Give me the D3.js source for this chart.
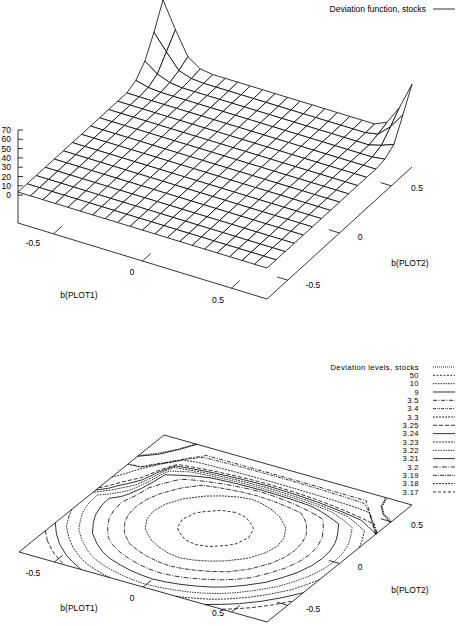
<!DOCTYPE html>
<html><head><meta charset="utf-8">
<script src="https://cdn.jsdelivr.net/npm/d3@7"></script>
<style>body{margin:0;background:#fff}text{font-family:"Liberation Sans",Arial,sans-serif;font-size:8.5px}text.lg{font-size:7.6px;letter-spacing:0.4px}</style>
</head><body><svg id="c" width="456" height="626"></svg>
<script>
// grid axes
let plot1 = [-0.7,-0.63,-0.56,-0.49,-0.42,-0.35,-0.28,-0.21,-0.14,-0.07,0,0.07,0.14,0.21,0.28,0.35,0.42,0.49,0.56,0.63,0.7]
let plot2 = [-0.7,-0.6125,-0.525,-0.4375,-0.35,-0.2625,-0.175,-0.0875,0,0.0875,0.175,0.2625,0.35,0.4375,0.525,0.6125,0.7]
// deviation values, one row per plot2 value (front to back)
let dev = [
[3.285,3.274,3.264,3.255,3.247,3.240,3.235,3.231,3.228,3.226,3.225,3.226,3.228,3.231,3.235,3.240,3.247,3.255,3.264,3.274,3.285],
[3.271,3.260,3.250,3.241,3.233,3.226,3.221,3.217,3.214,3.212,3.211,3.212,3.214,3.217,3.221,3.226,3.233,3.241,3.250,3.260,3.271],
[3.259,3.248,3.238,3.229,3.221,3.214,3.209,3.205,3.202,3.200,3.199,3.200,3.202,3.205,3.209,3.214,3.221,3.229,3.238,3.248,3.259],
[3.249,3.238,3.228,3.219,3.211,3.204,3.199,3.195,3.192,3.190,3.189,3.190,3.192,3.195,3.199,3.204,3.211,3.219,3.228,3.238,3.249],
[3.240,3.229,3.219,3.210,3.202,3.195,3.190,3.186,3.183,3.181,3.180,3.181,3.183,3.186,3.190,3.195,3.202,3.210,3.219,3.229,3.240],
[3.234,3.223,3.213,3.204,3.196,3.189,3.184,3.180,3.177,3.175,3.174,3.175,3.177,3.180,3.184,3.189,3.196,3.204,3.213,3.223,3.234],
[3.229,3.218,3.208,3.199,3.191,3.184,3.179,3.175,3.172,3.170,3.169,3.170,3.172,3.175,3.179,3.184,3.191,3.199,3.208,3.218,3.229],
[3.226,3.215,3.205,3.196,3.188,3.181,3.176,3.172,3.169,3.167,3.166,3.167,3.169,3.172,3.176,3.181,3.188,3.196,3.205,3.215,3.226],
[3.225,3.214,3.204,3.195,3.187,3.180,3.175,3.171,3.168,3.166,3.165,3.166,3.168,3.171,3.175,3.180,3.187,3.195,3.204,3.214,3.225],
[3.256,3.230,3.215,3.196,3.188,3.181,3.176,3.172,3.169,3.167,3.166,3.167,3.169,3.172,3.176,3.181,3.188,3.196,3.205,3.215,3.226],
[3.289,3.248,3.228,3.199,3.191,3.184,3.179,3.175,3.172,3.170,3.169,3.170,3.172,3.175,3.179,3.184,3.191,3.199,3.208,3.218,3.229],
[3.334,3.273,3.243,3.204,3.196,3.189,3.184,3.180,3.177,3.175,3.174,3.175,3.177,3.180,3.184,3.189,3.196,3.204,3.213,3.223,3.234],
[3.390,3.309,3.259,3.210,3.202,3.195,3.190,3.186,3.183,3.181,3.180,3.181,3.183,3.186,3.190,3.195,3.202,3.210,3.219,3.229,3.240],
[8.0,4.5,3.299,3.230,3.222,3.215,3.210,3.206,3.203,3.201,3.200,3.201,3.203,3.206,3.210,3.215,3.222,3.230,3.239,3.249,5.0],
[20,10,5,3.280,3.272,3.265,3.260,3.256,3.253,3.251,3.250,3.251,3.253,3.256,3.260,3.265,3.272,3.280,3.289,7,12],
[42,25,9,4.5,3.422,3.415,3.410,3.406,3.403,3.401,3.400,3.401,3.403,3.406,3.410,3.415,3.422,3.430,6,18,35],
[68,40,15,6,4.022,4.015,4.010,4.006,4.003,4.001,4.000,4.001,4.003,4.006,4.010,4.015,4.022,4.030,10,30,59]
]
let zTicks = [0,10,20,30,40,50,60,70]
let xyTicks = [-0.5,0,0.5]
let levels = [50,10,9,3.5,3.4,3.3,3.25,3.24,3.23,3.22,3.21,3.2,3.19,3.18,3.17]
let dashes = ["2,1.5","1.5,1","none","4,1.5,1,1.5","3,1,1,1,1,1","2,1","4,2","none","2,1","1.5,1","none","5,1.5,1,1.5","4,1,1,1","2,1","3,2"]

let svg = d3.select("#c")
let nu = plot1.length, nv = plot2.length
let fu = d3.scaleLinear().domain([-0.7,0.7]).range([0,1])
let fv = d3.scaleLinear().domain([-0.7,0.7]).range([0,1])

function projector(O, ex, ey, zb, k) {
  return (u, v, z) => [O[0] + fu(u)*ex[0] + fv(v)*ey[0],
                       O[1] + fu(u)*ex[1] + fv(v)*ey[1] - (z - zb)*k]
}
let P = projector([18,223], [249,76], [145,-132], -30, 0.93)
let Q = projector([19,552], [248,70], [145,-117], 0, 0)
let line = d3.line()
let ink = "#000"

function txt(x, y, s, anchor, cls) {
  svg.append("text").attr("x", x).attr("y", y).attr("text-anchor", anchor || "middle").attr("class", cls || null).text(s)
}

// ---- top: surface ----
let g1 = svg.append("g").attr("fill", "none").attr("stroke", ink).attr("stroke-width", 0.8)
g1.append("path").attr("d", line([P(-0.7,-0.7,-30), P(0.7,-0.7,-30), P(0.7,0.7,-30)]))
g1.append("path").attr("d", line([P(-0.7,-0.7,70), P(-0.7,-0.7,-30)]))
zTicks.forEach(z => {
  let p = P(-0.7,-0.7,z)
  g1.append("path").attr("d", line([p, [p[0]+5, p[1]]]))
  txt(p[0]-7, p[1]+3, z, "end")
})
xyTicks.forEach(t => {
  let a = P(t,-0.7,-30), b = P(t,-0.62,-30)
  g1.append("path").attr("d", line([a, b]))
  let c = P(0.7,t,-30), d = P(0.64,t,-30)
  g1.append("path").attr("d", line([c, d]))
})
let quads = []
for (let j = 0; j < nv-1; j++) for (let i = 0; i < nu-1; i++) quads.push([i, j])
quads.sort((a, b) => (a[0]/nu - a[1]/nv) - (b[0]/nu - b[1]/nv))
let gs = svg.append("g").attr("fill", "#fff").attr("stroke", ink).attr("stroke-width", 0.8).attr("stroke-linejoin", "round")
quads.forEach(([i, j]) => {
  let pts = [[i,j],[i+1,j],[i+1,j+1],[i,j+1]].map(([a,b]) => P(plot1[a], plot2[b], dev[b][a]))
  gs.append("path").attr("d", line(pts) + "Z")
})
txt(33, 246, "-0.5"); txt(132, 275, "0"); txt(218, 303, "0.5"); txt(79, 298, "b(PLOT1)")
txt(417, 191, "0.5"); txt(360, 240, "0"); txt(313, 288, "-0.5"); txt(410, 266, "b(PLOT2)")
txt(426, 12, "Deviation function, stocks", "end")
svg.append("path").attr("d", line([[433,9],[455,9]])).attr("stroke", ink).attr("stroke-width", 0.8)

// ---- bottom: contours ----
let g2 = svg.append("g").attr("fill", "none").attr("stroke", ink).attr("stroke-width", 0.8)
g2.append("path").attr("d", line([Q(-0.7,-0.7,0), Q(0.7,-0.7,0), Q(0.7,0.7,0), Q(-0.7,0.7,0)]) + "Z")
xyTicks.forEach(t => {
  g2.append("path").attr("d", line([Q(t,-0.7,0), Q(t,-0.62,0)]))
  g2.append("path").attr("d", line([Q(0.7,t,0), Q(0.64,t,0)]))
})
let flat = []
dev.forEach(r => r.forEach(v => flat.push(v)))
let ix = d3.scaleLinear().domain([0.5, nu-0.5]).range([-0.7,0.7]).clamp(true)
let iy = d3.scaleLinear().domain([0.5, nv-0.5]).range([-0.7,0.7]).clamp(true)
let onEdge = p => p[0] <= 0.5 || p[0] >= nu-0.5 || p[1] <= 0.5 || p[1] >= nv-0.5
levels.forEach((lv, k) => {
  let c = d3.contours().size([nu, nv]).thresholds([lv])(flat)[0]
  c.coordinates.forEach(poly => poly.forEach(ring => {
    let segs = [], cur = []
    for (let n = 1; n < ring.length; n++) {
      let a = ring[n-1], b = ring[n]
      if (onEdge(a) && onEdge(b)) { if (cur.length) segs.push(cur); cur = []; continue }
      if (!cur.length) cur.push(Q(ix(a[0]), iy(a[1]), 0))
      cur.push(Q(ix(b[0]), iy(b[1]), 0))
    }
    if (cur.length) segs.push(cur)
    segs.forEach(s => g2.append("path").attr("d", line(s)).attr("stroke-dasharray", dashes[k]))
  }))
})
txt(33, 576, "-0.5"); txt(132, 601, "0"); txt(218, 616, "0.5"); txt(79, 611, "b(PLOT1)")
txt(417, 528, "0.5"); txt(360, 570, "0"); txt(313, 612, "-0.5"); txt(410, 593, "b(PLOT2)")
let ly = d3.scaleLinear().domain([0, levels.length]).range([367, 367 + 8.33*levels.length])
txt(419, ly(0)+2.7, "Deviation levels, stocks", "end", "lg")
svg.append("path").attr("d", line([[433,ly(0)],[455,ly(0)]])).attr("stroke", ink).attr("stroke-width", 0.8).attr("stroke-dasharray", "1,1")
levels.forEach((lv, k) => {
  txt(419, ly(k+1)+2.7, lv, "end", "lg")
  svg.append("path").attr("d", line([[433,ly(k+1)],[455,ly(k+1)]])).attr("stroke", ink).attr("stroke-width", 0.8).attr("stroke-dasharray", dashes[k])
})
</script></body></html>
